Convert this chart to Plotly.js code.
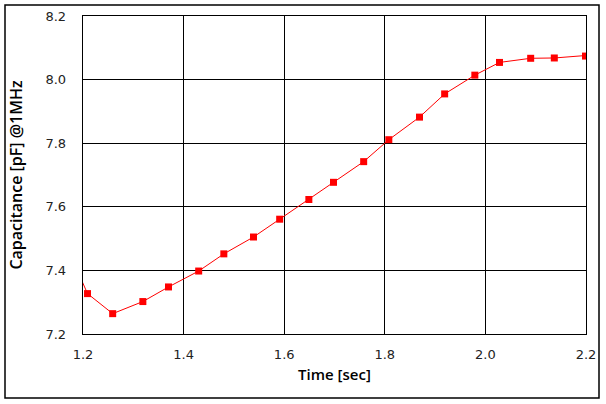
<!DOCTYPE html>
<html>
<head>
<meta charset="utf-8">
<script src="https://cdn.plot.ly/plotly-3.0.1.min.js"></script>
<style>
  body { margin: 0; background: #fff; }
  #chart { width: 606px; height: 404px; }
</style>
</head>
<body>
<div id="chart"></div>
<script>
// measured data (time in sec, capacitance in pF)
const timeSec = [1.155, 1.209, 1.259, 1.319, 1.370, 1.430, 1.480, 1.539, 1.591, 1.649, 1.698,
                 1.758, 1.808, 1.869, 1.919, 1.979, 2.028, 2.090, 2.137, 2.199, 2.250];
const capPf = [7.52, 7.327, 7.264, 7.302, 7.348, 7.398, 7.452, 7.505, 7.561, 7.623, 7.677,
               7.742, 7.811, 7.882, 7.955, 8.014, 8.054, 8.067, 8.068, 8.074, 8.082];
const xTicks = [1.2, 1.4, 1.6, 1.8, 2.0, 2.2];
const yTicks = [7.2, 7.4, 7.6, 7.8, 8.0, 8.2];

// plot area in pixels
const W = 606, H = 404;
const M = { l: 83, r: 20, t: 16, b: 70 };
const pw = W - M.l - M.r, ph = H - M.t - M.b;
function px2x(p) { return (p - M.l) / pw; }
function px2y(p) { return (H - M.b - p) / ph; }

const trace = {
    x: timeSec,
    y: capPf,
    mode: "lines+markers",
    line: { color: "#ff0000", width: 1 },
    marker: { symbol: "square", size: 7, color: "#ff0000" },
    showlegend: false
};

const layout = {
    width: W,
    height: H,
    margin: M,
    paper_bgcolor: "#fff",
    plot_bgcolor: "#fff",
    font: { family: "DejaVu Sans, sans-serif", size: 12, color: "#222" },
    xaxis: {
        range: [1.2, 2.2],
        tickvals: xTicks,
        ticktext: xTicks.map(v => v.toFixed(1)),
        showgrid: true,
        gridcolor: "#000",
        gridwidth: 1.3,
        showline: true,
        linecolor: "#000",
        linewidth: 1.3,
        mirror: true,
        zeroline: false,
        ticks: "",
        ticklabelstandoff: 8,
        tickfont: { family: "DejaVu Sans, sans-serif", size: 13, color: "#222" },
        title: { text: "Time [sec]", standoff: 8,
                 font: { family: "Open Sans, sans-serif", size: 15, color: "#000", weight: 600 } }
    },
    yaxis: {
        range: [7.2, 8.2],
        tickvals: yTicks,
        ticktext: yTicks.map(v => v.toFixed(1)),
        showgrid: true,
        gridcolor: "#000",
        gridwidth: 1.3,
        showline: true,
        linecolor: "#000",
        linewidth: 1.3,
        mirror: true,
        zeroline: false,
        ticks: "",
        ticklabelstandoff: 13,
        tickfont: { family: "DejaVu Sans, sans-serif", size: 13, color: "#222" },
        title: { text: "Capacitance [pF] @1MHz", standoff: 18,
                 font: { family: "Open Sans, sans-serif", size: 16, color: "#000", weight: 600 } }
    },
    shapes: [{
        type: "rect",
        xref: "paper", yref: "paper",
        x0: px2x(5), x1: px2x(599),
        y0: px2y(398), y1: px2y(5),
        line: { color: "#000", width: 1.5 },
        layer: "below"
    }]
};

Plotly.newPlot("chart", [trace], layout, { displayModeBar: false, staticPlot: true });
</script>
</body>
</html>
